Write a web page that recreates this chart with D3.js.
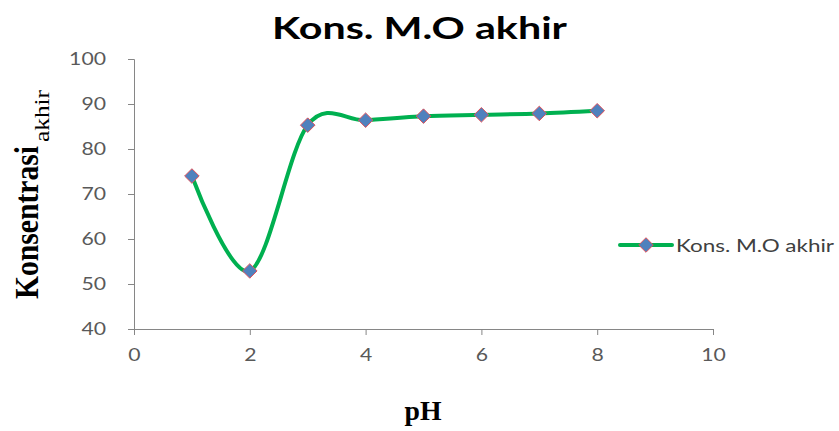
<!DOCTYPE html>
<html>
<head>
<meta charset="utf-8">
<script src="https://cdn.jsdelivr.net/npm/d3@7"></script>
<style>
  html, body { margin: 0; padding: 0; background: #fff; }
  svg { display: block; }
</style>
</head>
<body>
<svg id="chart" width="839" height="431"></svg>
<script>
// pH values and final organic-matter concentration
const phValues = [1, 2, 3, 4, 5, 6, 7, 8];
const konsentrasi = [74, 52.9, 85.3, 86.4, 87.3, 87.6, 87.9, 88.5];
const xTicks = [0, 2, 4, 6, 8, 10];
const yTicks = [40, 50, 60, 70, 80, 90, 100];
const seriesName = "Kons. M.O akhir";

const svg = d3.select("#chart");
const x = d3.scaleLinear().domain([0, 10]).range([134, 713]);
const y = d3.scaleLinear().domain([40, 100]).range([329, 59]);

const axisColor = "#868686";
const labelFont = "Lato, 'Open Sans', sans-serif";
const serifFont = "'Liberation Serif', 'Times New Roman', serif";
const digitWidth = 12.3;

// Title
svg.append("text")
  .attr("x", 419.5).attr("y", 39)
  .attr("text-anchor", "middle")
  .attr("font-family", labelFont)
  .attr("font-weight", "bold")
  .attr("font-size", 30)
  .attr("textLength", 295)
  .attr("lengthAdjust", "spacingAndGlyphs")
  .attr("fill", "#000")
  .text(seriesName);

// Y axis
const yAxis = svg.append("g")
  .attr("transform", `translate(${x(0)},0)`)
  .call(d3.axisLeft(y).tickValues(yTicks).tickSize(6).tickPadding(22));
// X axis
const xAxis = svg.append("g")
  .attr("transform", `translate(0,${y(40)})`)
  .call(d3.axisBottom(x).tickValues(xTicks).tickSize(6).tickPadding(13));

[yAxis, xAxis].forEach(g => {
  g.select(".domain").attr("stroke", axisColor);
  g.selectAll(".tick line").attr("stroke", axisColor);
  g.selectAll(".tick text")
    .attr("fill", "#595959")
    .attr("font-family", labelFont)
    .attr("font-size", 18)
    .attr("lengthAdjust", "spacingAndGlyphs")
    .attr("textLength", d => String(d).length * digitWidth);
});

// Axis titles
const yTitle = svg.append("text")
  .attr("transform", "translate(38,299) rotate(-90)")
  .attr("text-anchor", "start")
  .attr("font-family", serifFont)
  .attr("font-weight", "bold")
  .attr("fill", "#000");
yTitle.append("tspan")
  .attr("font-size", 33)
  .attr("textLength", 153)
  .attr("lengthAdjust", "spacingAndGlyphs")
  .text("Konsentrasi");
yTitle.append("tspan")
  .attr("font-size", 21)
  .attr("font-weight", "normal")
  .attr("dx", 4)
  .attr("dy", 11)
  .attr("textLength", 52)
  .attr("lengthAdjust", "spacingAndGlyphs")
  .text("akhir");

svg.append("text")
  .attr("x", 423).attr("y", 420)
  .attr("text-anchor", "middle")
  .attr("font-family", serifFont)
  .attr("font-weight", "bold")
  .attr("font-size", 28)
  .attr("textLength", 37)
  .attr("lengthAdjust", "spacingAndGlyphs")
  .attr("fill", "#000")
  .text("pH");

// Smoothed series line
const data = phValues.map((p, i) => ({ x: p, y: konsentrasi[i] }));
const line = d3.line()
  .x(d => x(d.x))
  .y(d => y(d.y))
  .curve(d3.curveCardinal.tension(0));

svg.append("path")
  .datum(data)
  .attr("d", line)
  .attr("fill", "none")
  .attr("stroke", "#00B050")
  .attr("stroke-width", 4)
  .attr("stroke-linecap", "round");

const diamond = d3.symbol().type(d3.symbolDiamond2).size(135);
function drawMarker(sel) {
  sel.attr("d", diamond)
    .attr("fill", "#4F81BD")
    .attr("stroke", "#E0525C")
    .attr("stroke-width", 1);
}

svg.append("g").selectAll("path")
  .data(data)
  .join("path")
  .attr("transform", d => `translate(${x(d.x)},${y(d.y)})`)
  .call(drawMarker);

// Legend
const legend = svg.append("g").attr("transform", "translate(620,245)");
legend.append("line")
  .attr("x1", 0).attr("x2", 52)
  .attr("stroke", "#00B050").attr("stroke-width", 4).attr("stroke-linecap", "round");
legend.append("path").attr("transform", "translate(26,0)").call(drawMarker);
legend.append("text")
  .attr("x", 56).attr("y", 7)
  .attr("font-family", labelFont)
  .attr("font-size", 18)
  .attr("textLength", 158)
  .attr("lengthAdjust", "spacingAndGlyphs")
  .attr("fill", "#404040")
  .text(seriesName);
</script>
</body>
</html>
